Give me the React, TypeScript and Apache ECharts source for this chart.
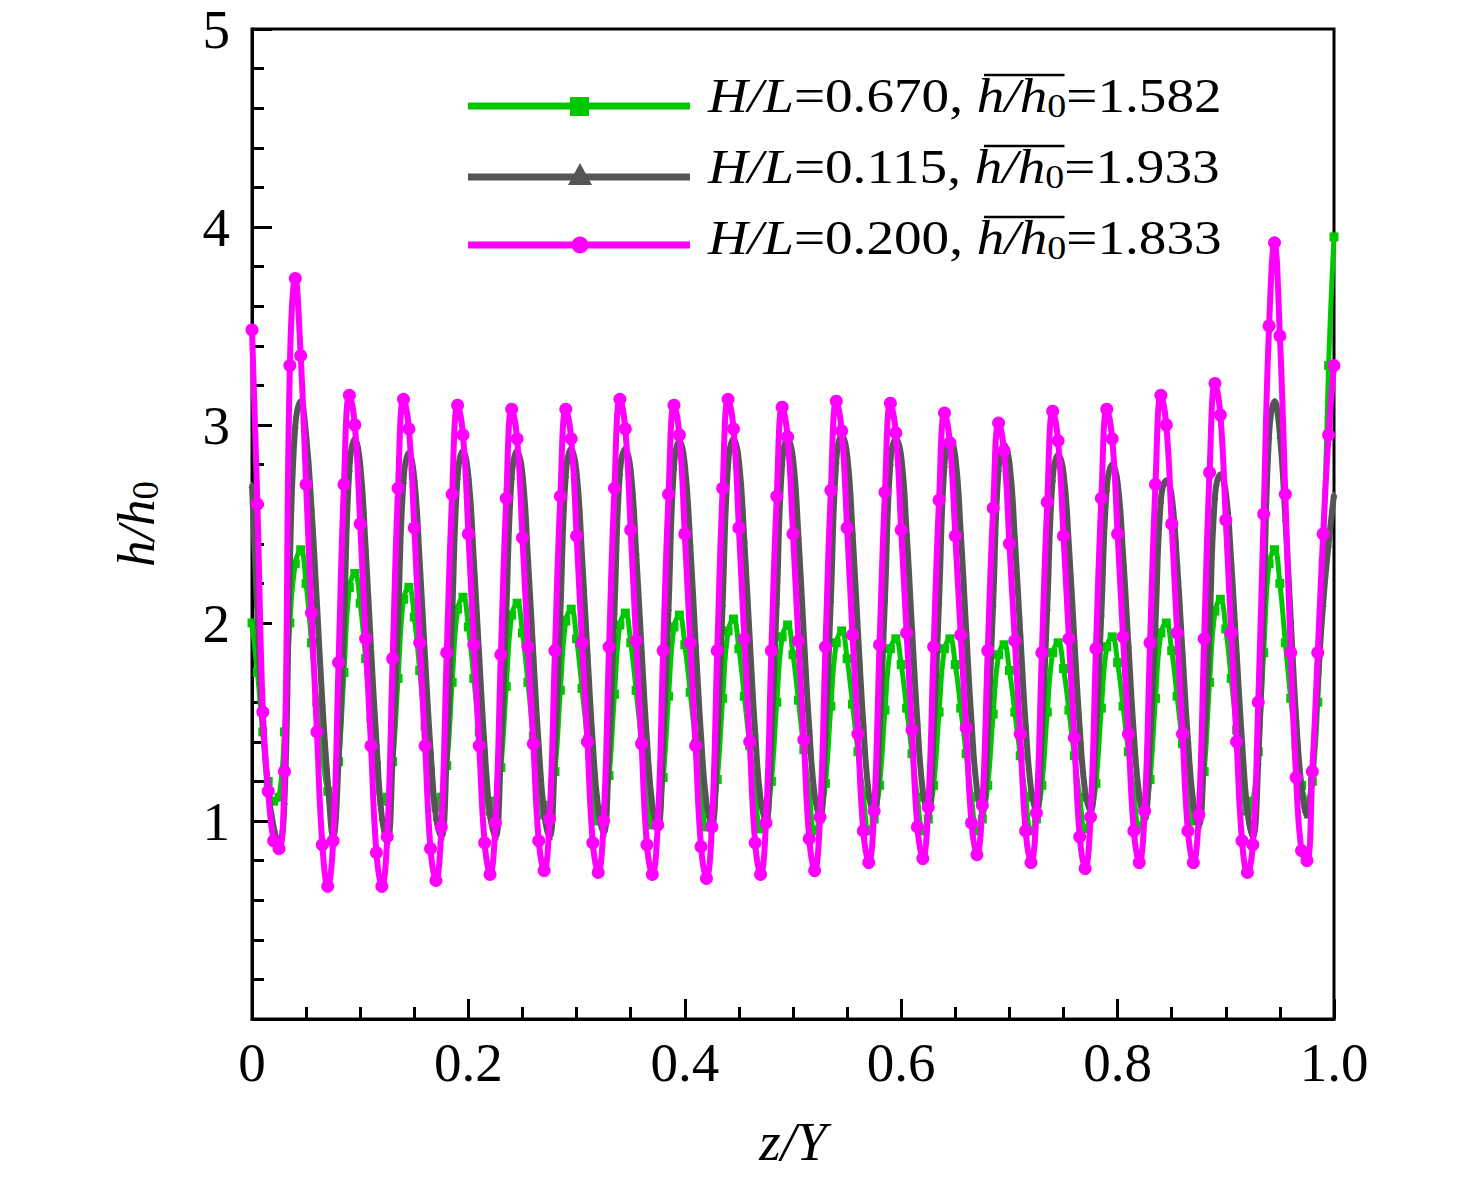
import React, { useEffect, useRef } from "react";
import * as echarts from "echarts";

// z/Y sampling positions shared by the three runs
const zGrid = [
  0, 0.005, 0.01, 0.015, 0.02, 0.025, 0.03, 0.035,
  0.04, 0.045, 0.05, 0.055, 0.06, 0.065, 0.07, 0.075, 0.08, 0.085,
  0.09, 0.095, 0.1, 0.105, 0.11, 0.115, 0.12, 0.125, 0.13, 0.135,
  0.14, 0.145, 0.15, 0.155, 0.16, 0.165, 0.17, 0.175, 0.18, 0.185,
  0.19, 0.195, 0.2, 0.205, 0.21, 0.215, 0.22, 0.225, 0.23, 0.235,
  0.24, 0.245, 0.25, 0.255, 0.26, 0.265, 0.27, 0.275, 0.28, 0.285,
  0.29, 0.295, 0.3, 0.305, 0.31, 0.315, 0.32, 0.325, 0.33, 0.335,
  0.34, 0.345, 0.35, 0.355, 0.36, 0.365, 0.37, 0.375, 0.38, 0.385,
  0.39, 0.395, 0.4, 0.405, 0.41, 0.415, 0.42, 0.425, 0.43, 0.435,
  0.44, 0.445, 0.45, 0.455, 0.46, 0.465, 0.47, 0.475, 0.48, 0.485,
  0.49, 0.495, 0.5, 0.505, 0.51, 0.515, 0.52, 0.525, 0.53, 0.535,
  0.54, 0.545, 0.55, 0.555, 0.56, 0.565, 0.57, 0.575, 0.58, 0.585,
  0.59, 0.595, 0.6, 0.605, 0.61, 0.615, 0.62, 0.625, 0.63, 0.635,
  0.64, 0.645, 0.65, 0.655, 0.66, 0.665, 0.67, 0.675, 0.68, 0.685,
  0.69, 0.695, 0.7, 0.705, 0.71, 0.715, 0.72, 0.725, 0.73, 0.735,
  0.74, 0.745, 0.75, 0.755, 0.76, 0.765, 0.77, 0.775, 0.78, 0.785,
  0.79, 0.795, 0.8, 0.805, 0.81, 0.815, 0.82, 0.825, 0.83, 0.835,
  0.84, 0.845, 0.85, 0.855, 0.86, 0.865, 0.87, 0.875, 0.88, 0.885,
  0.89, 0.895, 0.9, 0.905, 0.91, 0.915, 0.92, 0.925, 0.93, 0.935,
  0.94, 0.945, 0.95, 0.955, 0.96, 0.965, 0.97, 0.975, 0.98, 0.985,
  0.99, 0.995, 1,
];

// H/L = 0.670
const greenH = [
  2.0, 1.75, 1.45, 1.2, 1.1, 1.12, 1.45, 2.0,
  2.3, 2.37, 2.2, 1.9, 1.6, 1.35, 1.15, 1.12, 1.3, 1.75,
  2.18, 2.25, 2.1, 1.82, 1.52, 1.28, 1.1, 1.12, 1.3, 1.72,
  2.12, 2.18, 2.03, 1.76, 1.48, 1.25, 1.07, 1.12, 1.28, 1.7,
  2.07, 2.13, 1.98, 1.72, 1.45, 1.22, 1.05, 1.1, 1.27, 1.68,
  2.04, 2.1, 1.95, 1.7, 1.43, 1.2, 1.03, 1.08, 1.25, 1.66,
  2.01, 2.07, 1.92, 1.67, 1.41, 1.18, 1.0, 1.06, 1.23, 1.64,
  1.99, 2.05, 1.9, 1.66, 1.4, 1.17, 0.98, 1.04, 1.22, 1.63,
  1.98, 2.04, 1.89, 1.65, 1.39, 1.16, 0.97, 1.03, 1.21, 1.62,
  1.96, 2.02, 1.87, 1.63, 1.38, 1.15, 0.96, 1.02, 1.2, 1.6,
  1.93, 1.99, 1.84, 1.61, 1.36, 1.14, 0.95, 1.01, 1.19, 1.58,
  1.9, 1.96, 1.82, 1.59, 1.35, 1.13, 0.95, 1.01, 1.18, 1.56,
  1.87, 1.92, 1.79, 1.57, 1.34, 1.12, 0.95, 1.01, 1.18, 1.55,
  1.87, 1.92, 1.79, 1.57, 1.34, 1.12, 0.95, 1.01, 1.18, 1.54,
  1.84, 1.89, 1.76, 1.55, 1.33, 1.12, 0.95, 1.01, 1.18, 1.55,
  1.85, 1.9, 1.77, 1.56, 1.33, 1.12, 0.96, 1.02, 1.19, 1.57,
  1.88, 1.93, 1.8, 1.58, 1.35, 1.14, 0.97, 1.03, 1.21, 1.62,
  1.95, 2.0, 1.86, 1.63, 1.39, 1.17, 1.0, 1.06, 1.25, 1.7,
  2.06, 2.12, 1.97, 1.72, 1.46, 1.23, 1.05, 1.1, 1.35, 1.85,
  2.3, 2.37, 2.2, 1.9, 1.62, 1.38, 1.18, 1.1, 1.2, 1.6,
  2.3, 3.3, 3.95,
];

// H/L = 0.115
const grayH = [
  2.7, 2.05, 1.5, 1.15, 0.97, 0.88, 1.1, 2.3,
  3.0, 3.12, 2.95, 2.58, 2.1, 1.6, 1.2, 0.92, 1.3, 2.0,
  2.78, 2.93, 2.8, 2.38, 1.87, 1.4, 1.02, 0.9, 1.32, 2.02,
  2.72, 2.86, 2.73, 2.31, 1.82, 1.36, 1.02, 0.92, 1.34, 2.04,
  2.74, 2.87, 2.74, 2.32, 1.83, 1.37, 1.03, 0.92, 1.35, 2.05,
  2.74, 2.87, 2.75, 2.33, 1.84, 1.38, 1.04, 0.92, 1.35, 2.05,
  2.75, 2.88, 2.76, 2.34, 1.85, 1.39, 1.06, 0.94, 1.37, 2.06,
  2.76, 2.88, 2.77, 2.36, 1.87, 1.41, 1.08, 0.97, 1.4, 2.08,
  2.79, 2.92, 2.8, 2.4, 1.9, 1.43, 1.09, 0.98, 1.41, 2.1,
  2.8, 2.93, 2.82, 2.42, 1.92, 1.45, 1.11, 1.0, 1.43, 2.11,
  2.81, 2.93, 2.83, 2.44, 1.94, 1.47, 1.13, 1.02, 1.45, 2.12,
  2.82, 2.95, 2.85, 2.46, 1.96, 1.49, 1.14, 1.03, 1.46, 2.12,
  2.81, 2.93, 2.84, 2.46, 1.97, 1.5, 1.15, 1.04, 1.46, 2.11,
  2.8, 2.93, 2.84, 2.46, 1.97, 1.5, 1.16, 1.05, 1.46, 2.1,
  2.78, 2.9, 2.81, 2.43, 1.95, 1.49, 1.16, 1.05, 1.45, 2.08,
  2.73, 2.85, 2.76, 2.39, 1.92, 1.47, 1.15, 1.05, 1.44, 2.05,
  2.68, 2.8, 2.71, 2.35, 1.89, 1.44, 1.13, 1.02, 1.41, 2.0,
  2.62, 2.72, 2.64, 2.3, 1.85, 1.41, 1.09, 0.98, 1.37, 1.98,
  2.64, 2.75, 2.66, 2.31, 1.85, 1.4, 1.05, 0.92, 1.3, 2.1,
  2.95, 3.12, 2.95, 2.53, 2.02, 1.52, 1.17, 1.03, 1.25, 1.7,
  2.1, 2.4, 2.65,
];

// H/L = 0.200
const magentaH = [
  3.48, 2.6, 1.55, 1.15, 0.9, 0.86, 1.25, 3.3,
  3.74, 3.35, 2.7, 2.05, 1.45, 0.88, 0.67, 0.9, 1.8, 2.7,
  3.15, 3.0, 2.5, 1.92, 1.38, 0.84, 0.67, 0.92, 1.82, 2.68,
  3.13, 2.98, 2.48, 1.9, 1.38, 0.86, 0.7, 0.97, 1.85, 2.65,
  3.1, 2.95, 2.45, 1.89, 1.38, 0.89, 0.73, 0.99, 1.84, 2.63,
  3.08, 2.93, 2.43, 1.88, 1.39, 0.9, 0.75, 1.01, 1.86, 2.64,
  3.08, 2.93, 2.44, 1.9, 1.4, 0.89, 0.74, 1.0, 1.88, 2.68,
  3.13, 2.98, 2.47, 1.91, 1.39, 0.88, 0.73, 0.98, 1.86, 2.65,
  3.1, 2.95, 2.45, 1.9, 1.38, 0.87, 0.71, 0.97, 1.86, 2.68,
  3.13, 2.98, 2.48, 1.92, 1.4, 0.89, 0.73, 0.99, 1.86, 2.64,
  3.09, 2.94, 2.45, 1.91, 1.41, 0.91, 0.75, 1.02, 1.88, 2.67,
  3.12, 2.97, 2.48, 1.94, 1.44, 0.95, 0.79, 1.05, 1.89, 2.66,
  3.11, 2.96, 2.47, 1.95, 1.46, 0.97, 0.81, 1.07, 1.88, 2.62,
  3.06, 2.91, 2.44, 1.94, 1.47, 0.99, 0.83, 1.08, 1.86, 2.58,
  3.01, 2.87, 2.4, 1.91, 1.44, 0.95, 0.79, 1.04, 1.85, 2.61,
  3.07, 2.92, 2.44, 1.92, 1.42, 0.92, 0.76, 1.02, 1.87, 2.63,
  3.08, 2.93, 2.45, 1.93, 1.44, 0.95, 0.79, 1.05, 1.9, 2.7,
  3.15, 3.0, 2.5, 1.95, 1.44, 0.95, 0.79, 1.03, 1.92, 2.76,
  3.21, 3.05, 2.52, 1.95, 1.4, 0.9, 0.74, 0.88, 1.6, 2.55,
  3.5, 3.92, 3.45, 2.65, 1.85, 1.22, 0.85, 0.8, 1.25, 1.85,
  2.45, 2.95, 3.3,
];

const ratioLabels = ["0.670", "0.115", "0.200"];
const meanLabels = ["1.582", "1.933", "1.833"];
const seriesColors = ["#00c800", "#555555", "#ff00ff"];
const seriesSymbols = ["rect", "triangle", "circle"];

const FONT = "Liberation Serif";

export default function App() {
  const chartRef = useRef<HTMLDivElement>(null);

  useEffect(() => {
    if (!chartRef.current) return;
    const chart = echarts.init(chartRef.current, undefined, { renderer: "svg" });

    const values = [greenH, grayH, magentaH];
    const symbolSizes = [9, 7, 13];
    const lineWidths = [5, 6, 6];

    const series = values.map((vals, k) => ({
      type: "line",
      name: "H/L=" + ratioLabels[k],
      data: zGrid.map((z, i) => [z, vals[i]]),
      smooth: 0.45,
      symbol: seriesSymbols[k],
      symbolSize: symbolSizes[k],
      showSymbol: true,
      itemStyle: { color: seriesColors[k] },
      lineStyle: { color: seriesColors[k], width: lineWidths[k] },
      z: 2 + k,
    }));

    // hand-drawn legend, rows in the same order as the reference
    const lineY = [106, 177, 245];
    const textY = [96, 167, 238];
    const legend: any[] = [];
    lineY.forEach((y, k) => {
      legend.push({
        type: "line",
        shape: { x1: 468, y1: y, x2: 690, y2: y },
        style: { stroke: seriesColors[k], lineWidth: 7 },
      });
    });
    legend.push({ type: "rect", shape: { x: 570, y: 97, width: 19, height: 19 }, style: { fill: seriesColors[0] } });
    legend.push({
      type: "polygon",
      shape: { points: [[568, 185], [592, 185], [580, 163]] },
      style: { fill: seriesColors[1] },
    });
    legend.push({ type: "circle", shape: { cx: 580, cy: 245, r: 8.5 }, style: { fill: seriesColors[2] } });
    textY.forEach((y, k) => {
      legend.push({
        type: "group",
        x: 708,
        y,
        scaleX: 1.15,
        children: [
          {
            type: "text",
            style: {
              text: "{i|H/L}=" + ratioLabels[k] + ", {i|h/h}{s|0}=" + meanLabels[k],
              fill: "#000",
              fontFamily: FONT,
              fontSize: 48,
              lineHeight: 52,
              align: "left",
              verticalAlign: "middle",
              rich: {
                i: { fontStyle: "italic", fontFamily: FONT, fontSize: 48, lineHeight: 52 },
                s: { fontFamily: FONT, fontSize: 33, lineHeight: 33, verticalAlign: "bottom" },
              },
            },
          },
          {
            type: "line",
            shape: { x1: 240, y1: -21, x2: 310, y2: -21 },
            style: { stroke: "#000", lineWidth: 2.5 },
          },
        ],
      });
    });

    chart.setOption({
      animation: false,
      textStyle: { fontFamily: FONT },
      grid: {
        left: 252,
        right: 142,
        top: 29,
        bottom: 160,
        show: true,
        borderColor: "#000",
        borderWidth: 3,
        backgroundColor: "transparent",
      },
      xAxis: {
        type: "value",
        min: 0,
        max: 1,
        interval: 0.2,
        name: "z/Y",
        nameLocation: "middle",
        nameGap: 95,
        nameTextStyle: { fontFamily: FONT, fontStyle: "italic", fontSize: 55, color: "#000" },
        axisLine: { onZero: false, lineStyle: { color: "#000", width: 3 } },
        axisTick: { inside: true, length: 20, lineStyle: { color: "#000", width: 3 } },
        minorTick: { show: true, splitNumber: 4, length: 12, lineStyle: { color: "#000", width: 3 } },
        splitLine: { show: false },
        axisLabel: {
          color: "#000",
          fontFamily: FONT,
          fontSize: 55,
          margin: 16,
          formatter: (v: number) => (v === 0 ? "0" : v.toFixed(1)),
        },
      },
      yAxis: {
        type: "value",
        min: 0,
        max: 5,
        interval: 1,
        axisLine: { onZero: false, lineStyle: { color: "#000", width: 3 } },
        axisTick: { inside: true, length: 20, lineStyle: { color: "#000", width: 3 } },
        minorTick: { show: true, splitNumber: 5, length: 12, lineStyle: { color: "#000", width: 3 } },
        splitLine: { show: false },
        axisLabel: {
          color: "#000",
          fontFamily: FONT,
          fontSize: 55,
          margin: 22,
          showMinLabel: false,
        },
      },
      graphic: [
        ...legend,
        {
          type: "text",
          x: 136,
          y: 524,
          rotation: Math.PI / 2,
          style: {
            text: "{i|h/h}{s|0}",
            fill: "#000",
            fontFamily: FONT,
            fontSize: 53,
            lineHeight: 56,
            align: "center",
            verticalAlign: "middle",
            rich: {
              i: { fontStyle: "italic", fontFamily: FONT, fontSize: 53, lineHeight: 56 },
              s: { fontFamily: FONT, fontSize: 37, lineHeight: 37, verticalAlign: "bottom" },
            },
          },
        },
      ],
      series,
    });

    return () => {
      chart.dispose();
    };
  }, []);

  return (
    <div
      ref={chartRef}
      style={{ position: "fixed", left: 0, top: 0, width: 1476, height: 1179, background: "#fff" }}
    />
  );
}
